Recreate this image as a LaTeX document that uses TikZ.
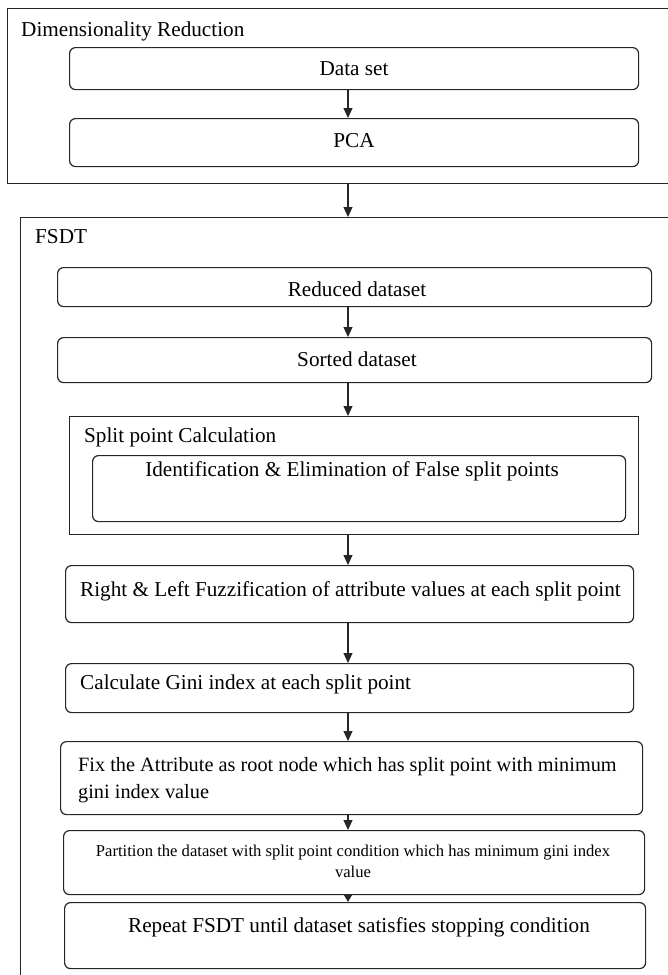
\documentclass[tikz,border=0pt]{standalone}
\usepackage{fontspec}
\setmainfont{Liberation Serif}
\usetikzlibrary{arrows.meta}
\begin{document}
\begin{tikzpicture}[x=1pt,y=-1pt,
  sbox/.style={draw=black!85, line width=1.2pt, inner sep=0pt, anchor=north west},
  rbox/.style={sbox, rounded corners=6pt},
  txt/.style={inner sep=0pt, font=\fontsize{21.2}{27}\selectfont, anchor=base west},
  ftxt/.style={inner sep=0pt, font=\fontsize{20.3}{27}\selectfont, anchor=base west},
  ctxt/.style={txt, anchor=base},
  stxt/.style={inner sep=0pt, font=\fontsize{16.6}{22}\selectfont, anchor=base},
  arr/.style={draw=black!85, line width=1.1pt, -{Triangle[length=10pt,width=9pt]}},
  sarr/.style={draw=black!85, line width=1.1pt, -{Triangle[length=8pt,width=9pt]}}]
\useasboundingbox (0,0) rectangle (668,975);
\clip (0,0) rectangle (668,975);
\coordinate (ax) at (348,0);
% Dimensionality Reduction
\node[sbox, minimum width=662pt, minimum height=175pt] (dr) at (7,8) {};
\node[txt] (drl) at (21,36) {Dimensionality Reduction};
\node[rbox, minimum width=569pt, minimum height=42pt] (ds) at (69,47) {};
\node[ctxt] (dst) at (354,75) {Data set};
\node[rbox, minimum width=569pt, minimum height=48pt] (pca) at (69,118) {};
\node[ctxt] (pcat) at (354,147) {PCA};
% FSDT
\node[sbox, minimum width=660pt, minimum height=775pt] (fsdt) at (20,217) {};
\node[txt] (fsdtl) at (35,243) {FSDT};
\node[rbox, minimum width=594pt, minimum height=39pt] (red) at (57,267) {};
\node[ctxt] (redt) at (357,296) {Reduced dataset};
\node[rbox, minimum width=594pt, minimum height=45pt] (sor) at (57,337) {};
\node[ctxt] (sort) at (357,366) {Sorted dataset};
\node[sbox, minimum width=569pt, minimum height=118pt] (spl) at (69,416) {};
\node[txt] (spll) at (84,442) {Split point Calculation};
\node[rbox, minimum width=533pt, minimum height=66pt] (idf) at (92,455) {};
\node[ctxt] (idft) at (352,476) {Identification \& Elimination of False split points};
\node[rbox, minimum width=568pt, minimum height=57pt] (rl) at (65,565) {};
\node[txt] (rlt) at (80,596) {Right \& Left Fuzzification of attribute values at each split point};
\node[rbox, minimum width=568pt, minimum height=49pt] (calc) at (65,663) {};
\node[txt] (calct) at (80,689) {Calculate Gini index at each split point};
\node[rbox, minimum width=582pt, minimum height=73pt] (fix) at (60,741) {};
\node[ftxt] (fixa) at (78,771) {Fix the Attribute as root node which has split point with minimum};
\node[ftxt] (fixb) at (78,798) {gini index value};
\node[rbox, minimum width=581pt, minimum height=64pt] (part) at (63,830) {};
\node[stxt] (parta) at (353,856) {Partition the dataset with split point condition which has minimum gini index};
\node[stxt] (partb) at (353,877) {value};
\node[rbox, minimum width=581pt, minimum height=66pt] (rep) at (64,902) {};
\node[ctxt] (rept) at (359,932) {Repeat FSDT until dataset satisfies stopping condition};
% connectors
\draw[arr] (ds.south -| ax) -- (pca.north -| ax);
\draw[arr] (dr.south -| ax) -- (fsdt.north -| ax);
\draw[arr] (red.south -| ax) -- (sor.north -| ax);
\draw[arr] (sor.south -| ax) -- (spl.north -| ax);
\draw[arr] (spl.south -| ax) -- (rl.north -| ax);
\draw[arr] (rl.south -| ax) -- (calc.north -| ax);
\draw[arr] (calc.south -| ax) -- (fix.north -| ax);
\draw[arr] (fix.south -| ax) -- (part.north -| ax);
\draw[sarr] (part.south -| ax) -- (rep.north -| ax);
\end{tikzpicture}
\end{document}
